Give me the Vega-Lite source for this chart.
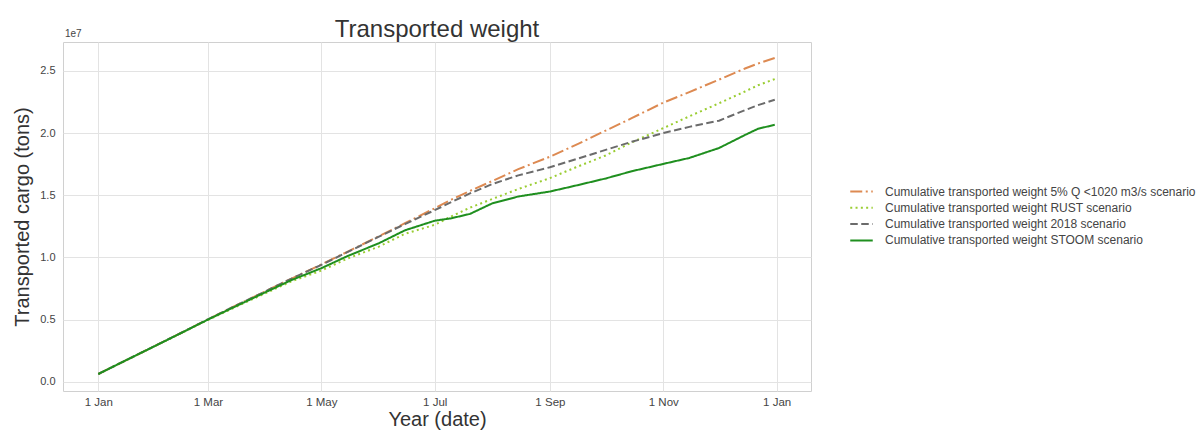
{
  "$schema": "https://vega.github.io/schema/vega-lite/v6.json",
  "width": 748,
  "height": 349,
  "autosize": {"type": "none"},
  "padding": {"left": 63, "top": 42, "right": 390, "bottom": 39},
  "background": "white",
  "title": {"text": "Transported weight", "fontSize": 24, "fontWeight": "normal", "color": "#333333", "anchor": "middle", "frame": "group", "offset": -13},
  "config": {
    "font": "Liberation Sans",
    "view": {"stroke": "#d0d0d0", "strokeWidth": 1}
  },
  "layer": [
    {
      "data": {"values": [
        {"date": "2018-01-01", "series": "Cumulative transported weight 5% Q <1020 m3/s scenario", "value": 620000},
        {"date": "2018-01-15", "series": "Cumulative transported weight 5% Q <1020 m3/s scenario", "value": 1660000},
        {"date": "2018-02-01", "series": "Cumulative transported weight 5% Q <1020 m3/s scenario", "value": 2920000},
        {"date": "2018-02-15", "series": "Cumulative transported weight 5% Q <1020 m3/s scenario", "value": 3960000},
        {"date": "2018-03-01", "series": "Cumulative transported weight 5% Q <1020 m3/s scenario", "value": 5020000},
        {"date": "2018-03-15", "series": "Cumulative transported weight 5% Q <1020 m3/s scenario", "value": 6050000},
        {"date": "2018-04-01", "series": "Cumulative transported weight 5% Q <1020 m3/s scenario", "value": 7280000},
        {"date": "2018-04-15", "series": "Cumulative transported weight 5% Q <1020 m3/s scenario", "value": 8300000},
        {"date": "2018-05-01", "series": "Cumulative transported weight 5% Q <1020 m3/s scenario", "value": 9430000},
        {"date": "2018-05-15", "series": "Cumulative transported weight 5% Q <1020 m3/s scenario", "value": 10450000},
        {"date": "2018-06-01", "series": "Cumulative transported weight 5% Q <1020 m3/s scenario", "value": 11700000},
        {"date": "2018-06-15", "series": "Cumulative transported weight 5% Q <1020 m3/s scenario", "value": 12750000},
        {"date": "2018-07-01", "series": "Cumulative transported weight 5% Q <1020 m3/s scenario", "value": 13950000},
        {"date": "2018-07-10", "series": "Cumulative transported weight 5% Q <1020 m3/s scenario", "value": 14650000},
        {"date": "2018-07-20", "series": "Cumulative transported weight 5% Q <1020 m3/s scenario", "value": 15350000},
        {"date": "2018-08-01", "series": "Cumulative transported weight 5% Q <1020 m3/s scenario", "value": 16150000},
        {"date": "2018-08-15", "series": "Cumulative transported weight 5% Q <1020 m3/s scenario", "value": 17100000},
        {"date": "2018-09-01", "series": "Cumulative transported weight 5% Q <1020 m3/s scenario", "value": 18100000},
        {"date": "2018-09-15", "series": "Cumulative transported weight 5% Q <1020 m3/s scenario", "value": 19050000},
        {"date": "2018-10-01", "series": "Cumulative transported weight 5% Q <1020 m3/s scenario", "value": 20200000},
        {"date": "2018-10-15", "series": "Cumulative transported weight 5% Q <1020 m3/s scenario", "value": 21200000},
        {"date": "2018-11-01", "series": "Cumulative transported weight 5% Q <1020 m3/s scenario", "value": 22450000},
        {"date": "2018-11-15", "series": "Cumulative transported weight 5% Q <1020 m3/s scenario", "value": 23300000},
        {"date": "2018-12-01", "series": "Cumulative transported weight 5% Q <1020 m3/s scenario", "value": 24300000},
        {"date": "2018-12-15", "series": "Cumulative transported weight 5% Q <1020 m3/s scenario", "value": 25200000},
        {"date": "2018-12-22", "series": "Cumulative transported weight 5% Q <1020 m3/s scenario", "value": 25600000},
        {"date": "2018-12-31", "series": "Cumulative transported weight 5% Q <1020 m3/s scenario", "value": 26050000},

        {"date": "2018-01-01", "series": "Cumulative transported weight RUST scenario", "value": 620000},
        {"date": "2018-01-15", "series": "Cumulative transported weight RUST scenario", "value": 1650000},
        {"date": "2018-02-01", "series": "Cumulative transported weight RUST scenario", "value": 2900000},
        {"date": "2018-02-15", "series": "Cumulative transported weight RUST scenario", "value": 3930000},
        {"date": "2018-03-01", "series": "Cumulative transported weight RUST scenario", "value": 4970000},
        {"date": "2018-03-15", "series": "Cumulative transported weight RUST scenario", "value": 5950000},
        {"date": "2018-04-01", "series": "Cumulative transported weight RUST scenario", "value": 7120000},
        {"date": "2018-04-15", "series": "Cumulative transported weight RUST scenario", "value": 8080000},
        {"date": "2018-05-01", "series": "Cumulative transported weight RUST scenario", "value": 8940000},
        {"date": "2018-05-15", "series": "Cumulative transported weight RUST scenario", "value": 9900000},
        {"date": "2018-06-01", "series": "Cumulative transported weight RUST scenario", "value": 10870000},
        {"date": "2018-06-15", "series": "Cumulative transported weight RUST scenario", "value": 11900000},
        {"date": "2018-07-01", "series": "Cumulative transported weight RUST scenario", "value": 12620000},
        {"date": "2018-07-10", "series": "Cumulative transported weight RUST scenario", "value": 13300000},
        {"date": "2018-07-20", "series": "Cumulative transported weight RUST scenario", "value": 14000000},
        {"date": "2018-08-01", "series": "Cumulative transported weight RUST scenario", "value": 14700000},
        {"date": "2018-08-15", "series": "Cumulative transported weight RUST scenario", "value": 15500000},
        {"date": "2018-09-01", "series": "Cumulative transported weight RUST scenario", "value": 16380000},
        {"date": "2018-09-15", "series": "Cumulative transported weight RUST scenario", "value": 17250000},
        {"date": "2018-10-01", "series": "Cumulative transported weight RUST scenario", "value": 18200000},
        {"date": "2018-10-15", "series": "Cumulative transported weight RUST scenario", "value": 19250000},
        {"date": "2018-11-01", "series": "Cumulative transported weight RUST scenario", "value": 20400000},
        {"date": "2018-11-15", "series": "Cumulative transported weight RUST scenario", "value": 21350000},
        {"date": "2018-12-01", "series": "Cumulative transported weight RUST scenario", "value": 22400000},
        {"date": "2018-12-15", "series": "Cumulative transported weight RUST scenario", "value": 23350000},
        {"date": "2018-12-22", "series": "Cumulative transported weight RUST scenario", "value": 23850000},
        {"date": "2018-12-31", "series": "Cumulative transported weight RUST scenario", "value": 24350000},

        {"date": "2018-01-01", "series": "Cumulative transported weight 2018 scenario", "value": 620000},
        {"date": "2018-01-15", "series": "Cumulative transported weight 2018 scenario", "value": 1660000},
        {"date": "2018-02-01", "series": "Cumulative transported weight 2018 scenario", "value": 2920000},
        {"date": "2018-02-15", "series": "Cumulative transported weight 2018 scenario", "value": 3960000},
        {"date": "2018-03-01", "series": "Cumulative transported weight 2018 scenario", "value": 5020000},
        {"date": "2018-03-15", "series": "Cumulative transported weight 2018 scenario", "value": 6050000},
        {"date": "2018-04-01", "series": "Cumulative transported weight 2018 scenario", "value": 7280000},
        {"date": "2018-04-15", "series": "Cumulative transported weight 2018 scenario", "value": 8300000},
        {"date": "2018-05-01", "series": "Cumulative transported weight 2018 scenario", "value": 9400000},
        {"date": "2018-05-15", "series": "Cumulative transported weight 2018 scenario", "value": 10420000},
        {"date": "2018-06-01", "series": "Cumulative transported weight 2018 scenario", "value": 11670000},
        {"date": "2018-06-15", "series": "Cumulative transported weight 2018 scenario", "value": 12680000},
        {"date": "2018-07-01", "series": "Cumulative transported weight 2018 scenario", "value": 13800000},
        {"date": "2018-07-10", "series": "Cumulative transported weight 2018 scenario", "value": 14450000},
        {"date": "2018-07-20", "series": "Cumulative transported weight 2018 scenario", "value": 15150000},
        {"date": "2018-08-01", "series": "Cumulative transported weight 2018 scenario", "value": 15900000},
        {"date": "2018-08-15", "series": "Cumulative transported weight 2018 scenario", "value": 16600000},
        {"date": "2018-09-01", "series": "Cumulative transported weight 2018 scenario", "value": 17250000},
        {"date": "2018-09-15", "series": "Cumulative transported weight 2018 scenario", "value": 17900000},
        {"date": "2018-10-01", "series": "Cumulative transported weight 2018 scenario", "value": 18650000},
        {"date": "2018-10-15", "series": "Cumulative transported weight 2018 scenario", "value": 19300000},
        {"date": "2018-11-01", "series": "Cumulative transported weight 2018 scenario", "value": 20000000},
        {"date": "2018-11-15", "series": "Cumulative transported weight 2018 scenario", "value": 20500000},
        {"date": "2018-12-01", "series": "Cumulative transported weight 2018 scenario", "value": 21000000},
        {"date": "2018-12-15", "series": "Cumulative transported weight 2018 scenario", "value": 21850000},
        {"date": "2018-12-22", "series": "Cumulative transported weight 2018 scenario", "value": 22250000},
        {"date": "2018-12-31", "series": "Cumulative transported weight 2018 scenario", "value": 22680000},

        {"date": "2018-01-01", "series": "Cumulative transported weight STOOM scenario", "value": 620000},
        {"date": "2018-01-15", "series": "Cumulative transported weight STOOM scenario", "value": 1660000},
        {"date": "2018-02-01", "series": "Cumulative transported weight STOOM scenario", "value": 2910000},
        {"date": "2018-02-15", "series": "Cumulative transported weight STOOM scenario", "value": 3950000},
        {"date": "2018-03-01", "series": "Cumulative transported weight STOOM scenario", "value": 5000000},
        {"date": "2018-03-15", "series": "Cumulative transported weight STOOM scenario", "value": 6000000},
        {"date": "2018-04-01", "series": "Cumulative transported weight STOOM scenario", "value": 7200000},
        {"date": "2018-04-15", "series": "Cumulative transported weight STOOM scenario", "value": 8180000},
        {"date": "2018-05-01", "series": "Cumulative transported weight STOOM scenario", "value": 9130000},
        {"date": "2018-05-15", "series": "Cumulative transported weight STOOM scenario", "value": 10100000},
        {"date": "2018-06-01", "series": "Cumulative transported weight STOOM scenario", "value": 11140000},
        {"date": "2018-06-15", "series": "Cumulative transported weight STOOM scenario", "value": 12180000},
        {"date": "2018-07-01", "series": "Cumulative transported weight STOOM scenario", "value": 12950000},
        {"date": "2018-07-10", "series": "Cumulative transported weight STOOM scenario", "value": 13150000},
        {"date": "2018-07-20", "series": "Cumulative transported weight STOOM scenario", "value": 13500000},
        {"date": "2018-08-01", "series": "Cumulative transported weight STOOM scenario", "value": 14350000},
        {"date": "2018-08-15", "series": "Cumulative transported weight STOOM scenario", "value": 14900000},
        {"date": "2018-09-01", "series": "Cumulative transported weight STOOM scenario", "value": 15300000},
        {"date": "2018-09-15", "series": "Cumulative transported weight STOOM scenario", "value": 15780000},
        {"date": "2018-10-01", "series": "Cumulative transported weight STOOM scenario", "value": 16350000},
        {"date": "2018-10-15", "series": "Cumulative transported weight STOOM scenario", "value": 16930000},
        {"date": "2018-11-01", "series": "Cumulative transported weight STOOM scenario", "value": 17520000},
        {"date": "2018-11-15", "series": "Cumulative transported weight STOOM scenario", "value": 18000000},
        {"date": "2018-12-01", "series": "Cumulative transported weight STOOM scenario", "value": 18800000},
        {"date": "2018-12-15", "series": "Cumulative transported weight STOOM scenario", "value": 19850000},
        {"date": "2018-12-22", "series": "Cumulative transported weight STOOM scenario", "value": 20350000},
        {"date": "2018-12-31", "series": "Cumulative transported weight STOOM scenario", "value": 20670000}
      ]},
      "mark": {"type": "line", "strokeWidth": 2, "clip": true},
      "encoding": {
        "x": {
          "field": "date", "type": "temporal",
          "scale": {"type": "utc", "domain": [{"year": 2017, "month": 12, "date": 13, "hours": 0, "utc": true}, {"year": 2019, "month": 1, "date": 19, "hours": 12, "utc": true}]},
          "axis": {
            "title": "Year (date)",
            "values": [
              {"year": 2018, "month": 1, "date": 1, "utc": true},
              {"year": 2018, "month": 3, "date": 1, "utc": true},
              {"year": 2018, "month": 5, "date": 1, "utc": true},
              {"year": 2018, "month": 7, "date": 1, "utc": true},
              {"year": 2018, "month": 9, "date": 1, "utc": true},
              {"year": 2018, "month": 11, "date": 1, "utc": true},
              {"year": 2019, "month": 1, "date": 1, "utc": true}
            ],
            "format": "%-d %b",
            "labelFontSize": 11.5, "labelColor": "#444444", "labelPadding": 5,
            "ticks": false, "domain": false,
            "gridColor": "#e3e3e3", "gridWidth": 1,
            "titleFontSize": 20, "titleFontWeight": "normal", "titleColor": "#333333", "titlePadding": 2
          }
        },
        "y": {
          "field": "value", "type": "quantitative",
          "scale": {"domain": [-748000, 27330000], "nice": false, "zero": false},
          "axis": {
            "title": "Transported cargo (tons)",
            "values": [0, 5000000, 10000000, 15000000, 20000000, 25000000],
            "labelExpr": "format(datum.value / 10000000, '.1f')",
            "labelFontSize": 11, "labelColor": "#444444", "labelPadding": 8,
            "ticks": false, "domain": false,
            "gridColor": "#e3e3e3", "gridWidth": 1,
            "titleFontSize": 20, "titleFontWeight": "normal", "titleColor": "#333333", "titlePadding": 7
          }
        },
        "color": {
          "field": "series", "type": "nominal",
          "scale": {
            "domain": ["Cumulative transported weight 5% Q <1020 m3/s scenario", "Cumulative transported weight RUST scenario", "Cumulative transported weight 2018 scenario", "Cumulative transported weight STOOM scenario"],
            "range": ["#dd8a52", "#9acd32", "#6b6b6b", "#1f8f1f"]
          },
          "legend": {
            "title": null, "orient": "none", "legendX": 790, "legendY": 141,
            "symbolType": "M-1.5,0H1.5", "symbolSize": 225, "symbolStrokeWidth": 2,
            "labelFontSize": 12, "labelColor": "#444444", "labelOffset": 15,
            "rowPadding": 1.3, "labelLimit": 400
          }
        },
        "strokeDash": {
          "field": "series", "type": "nominal",
          "scale": {
            "domain": ["Cumulative transported weight 5% Q <1020 m3/s scenario", "Cumulative transported weight RUST scenario", "Cumulative transported weight 2018 scenario", "Cumulative transported weight STOOM scenario"],
            "range": [[12, 3.5, 2, 3.5], [2, 3.3], [7.5, 3.5], [1, 0]]
          },
          "legend": null
        }
      }
    },
    {
      "data": {"values": [{"label": "1e7"}]},
      "mark": {"type": "text", "align": "left", "baseline": "alphabetic", "dx": 2, "dy": -5, "fontSize": 10, "color": "#444444"},
      "encoding": {
        "x": {"datum": {"year": 2017, "month": 12, "date": 13, "hours": 0, "utc": true}, "type": "temporal"},
        "y": {"datum": 27330000, "type": "quantitative"},
        "text": {"field": "label"}
      }
    }
  ]
}
